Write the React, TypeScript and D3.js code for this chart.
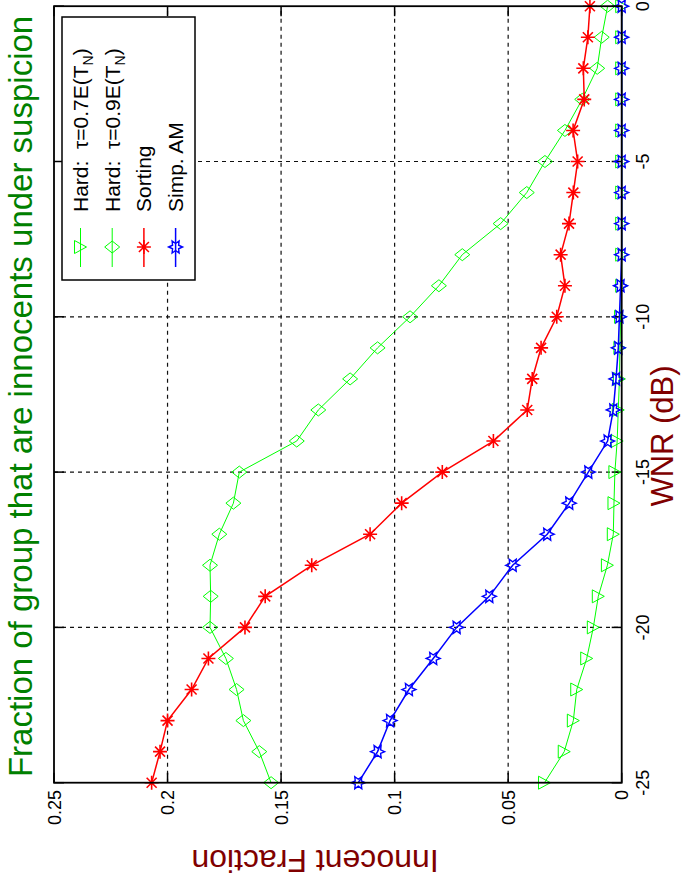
import * as d3 from "d3";

// WNR (dB) sample points
const wnr = [-25, -24, -23, -22, -21, -20, -19, -18, -17, -16, -15, -14, -13, -12, -11, -10, -9, -8, -7, -6, -5, -4, -3, -2, -1, 0];

const hard07 = [0.034, 0.0253, 0.0213, 0.0198, 0.0154, 0.0125, 0.0103, 0.0063, 0.0037, 0.0034, 0.003, 0.002, 0.0015, 0.001, 0.0008, 0.0005, 0, 0, 0, 0, 0, 0, 0, 0, 0, 0];
const hard09 = [0.1544, 0.1596, 0.1666, 0.1696, 0.1743, 0.1813, 0.181, 0.1813, 0.1772, 0.171, 0.1684, 0.1431, 0.1336, 0.1196, 0.1075, 0.0932, 0.0805, 0.0702, 0.0533, 0.0418, 0.0338, 0.025, 0.0174, 0.0108, 0.0088, 0.0062];
const sorting = [0.207, 0.2033, 0.2, 0.1894, 0.182, 0.1659, 0.157, 0.1365, 0.1108, 0.0969, 0.079, 0.0565, 0.0416, 0.0394, 0.0355, 0.0286, 0.025, 0.0269, 0.0232, 0.0213, 0.0194, 0.0214, 0.0165, 0.0169, 0.0149, 0.014];
const simpAM = [0.116, 0.1075, 0.102, 0.0937, 0.083, 0.0727, 0.0583, 0.048, 0.0328, 0.0231, 0.0147, 0.0062, 0.0037, 0.0025, 0.0015, 0.001, 0.0005, 0, 0, 0, 0, 0, 0, 0, 0, 0];

const xTicks = [-25, -20, -15, -10, -5, 0];
const yTicks = [0, 0.05, 0.1, 0.15, 0.2, 0.25];
const yTickLabels = ["0", "0.05", "0.1", "0.15", "0.2", "0.25"];

const series = [
  { name: "hard07", values: hard07, color: "#00ff00", width: 1, marker: "tri" },
  { name: "hard09", values: hard09, color: "#00ff00", width: 1, marker: "diamond" },
  { name: "sorting", values: sorting, color: "#ff0000", width: 1.5, marker: "star" },
  { name: "simpAM", values: simpAM, color: "#0000ff", width: 1.5, marker: "hex" },
];

// the figure is drawn in its own (landscape) frame, then turned a quarter left
const W = 891;
const H = 681;
const FONT = "'Liberation Sans', Arial, Helvetica, sans-serif";

const x = d3.scaleLinear().domain([-25, 0]).range([108.3, 884.8]);
const y = d3.scaleLinear().domain([0, 0.25]).range([621.7, 54]);

function hexPath(r: number) {
  const pts: string[] = [];
  for (let i = 0; i < 12; i++) {
    const a = (Math.PI / 6) * i - Math.PI / 2;
    const rr = i % 2 === 0 ? r : r * 0.5;
    pts.push(`${(Math.cos(a) * rr).toFixed(2)},${(Math.sin(a) * rr).toFixed(2)}`);
  }
  return "M" + pts.join("L") + "Z";
}

function Marker({ kind, color, cx, cy }: { kind: string; color: string; cx: number; cy: number }) {
  const t = `translate(${cx},${cy})`;
  if (kind === "tri")
    return <path transform={t} d="M-6.5,-6L6.5,-6L0,6Z" fill="none" stroke={color} strokeWidth={1} />;
  if (kind === "diamond")
    return <path transform={t} d="M0,-7.5L6,0L0,7.5L-6,0Z" fill="none" stroke={color} strokeWidth={1} />;
  if (kind === "star")
    return (
      <path
        transform={t}
        d="M-7,0L7,0M0,-7L0,7M-5,-5L5,5M-5,5L5,-5"
        fill="none"
        stroke={color}
        strokeWidth={1.6}
      />
    );
  return <path transform={t} d={hexPath(7)} fill="none" stroke={color} strokeWidth={1.4} />;
}

const legendItems = [
  { key: "hard07", label: "0.7" },
  { key: "hard09", label: "0.9" },
  { key: "sorting", label: "Sorting" },
  { key: "simpAM", label: "Simp. AM" },
];

export default function App() {
  const line = d3
    .line<number>()
    .x((_, i) => x(wnr[i]))
    .y((d) => y(d));

  const [x0, x1] = x.range();
  const [y0, y1] = y.range();
  const tick = 10;

  const lgX = 611;
  const lgY = 62;
  const lgW = 263;
  const lgH = 133;

  return (
    <svg
      width={H}
      height={W}
      style={{ position: "absolute", left: 0, top: 0, display: "block", background: "#fff" }}
      fontFamily={FONT}
    >
      <g transform={`translate(0,${W}) rotate(-90)`}>
        <rect x={0} y={0} width={W} height={H} fill="#fff" />

        {/* grid */}
        {xTicks.slice(1, -1).map((t) => (
          <line key={"gx" + t} x1={x(t)} x2={x(t)} y1={y1} y2={y0} stroke="#111" strokeWidth={1.2} strokeDasharray="4,4" />
        ))}
        {yTicks.slice(1, -1).map((t) => (
          <line key={"gy" + t} x1={x0} x2={x1} y1={y(t)} y2={y(t)} stroke="#111" strokeWidth={1.2} strokeDasharray="4,4" />
        ))}

        {/* ticks on all four sides */}
        {xTicks.map((t) => (
          <g key={"tx" + t} stroke="#000" strokeWidth={1.5}>
            <line x1={x(t)} x2={x(t)} y1={y0} y2={y0 - tick} />
            <line x1={x(t)} x2={x(t)} y1={y1} y2={y1 + tick} />
          </g>
        ))}
        {yTicks.map((t) => (
          <g key={"ty" + t} stroke="#000" strokeWidth={1.5}>
            <line x1={x0} x2={x0 + tick} y1={y(t)} y2={y(t)} />
            <line x1={x1} x2={x1 - tick} y1={y(t)} y2={y(t)} />
          </g>
        ))}

        {/* series */}
        {series.map((s) => (
          <g key={s.name}>
            <path d={line(s.values) ?? ""} fill="none" stroke={s.color} strokeWidth={s.width} />
            {s.values.map((v, i) => (
              <Marker key={i} kind={s.marker} color={s.color} cx={x(wnr[i])} cy={y(v)} />
            ))}
          </g>
        ))}

        {/* box */}
        <rect x={x0} y={y1} width={x1 - x0} height={y0 - y1} fill="none" stroke="#000" strokeWidth={1.8} />

        {/* tick labels */}
        {xTicks.map((t) => (
          <text key={"lx" + t} x={x(t)} y={649} textAnchor="middle" fontSize={18} fill="#000">
            {t}
          </text>
        ))}
        {yTicks.map((t, i) => (
          <text key={"ly" + t} x={101} y={y(t) + 6.5} textAnchor="end" fontSize={18} fill="#000">
            {yTickLabels[i]}
          </text>
        ))}

        {/* legend */}
        <rect x={lgX} y={lgY} width={lgW} height={lgH} fill="#fff" stroke="#000" strokeWidth={1.5} />
        {legendItems.map((it, i) => {
          const s = series.find((d) => d.name === it.key)!;
          const ry = lgY + 18.5 + i * 31.7;
          return (
            <g key={it.key}>
              <line x1={lgX + 13} x2={lgX + 52} y1={ry} y2={ry} stroke={s.color} strokeWidth={s.width} />
              <Marker kind={s.marker} color={s.color} cx={lgX + 33} cy={ry} />
              <text x={lgX + 68} y={ry + 7.5} fontSize={21} fill="#000" style={{ whiteSpace: "pre" }}>
                {it.key.startsWith("hard") ? (
                  <>
                    {"Hard:  τ=" + it.label + "E(T"}
                    <tspan fontSize={14} dy={5}>N</tspan>
                    <tspan dy={-5}>)</tspan>
                  </>
                ) : (
                  it.label
                )}
              </text>
            </g>
          );
        })}

        {/* title and axis labels */}
        <text x={(x0 + x1) / 2 - 2} y={32} textAnchor="middle" fontSize={33} fill="#008000">
          Fraction of group that are innocents under suspicion
        </text>
        <text x={455} y={673} textAnchor="middle" fontSize={31} fill="#800000">
          WNR (dB)
        </text>
        <text transform="translate(41,315) rotate(-90)" textAnchor="middle" fontSize={32} fill="#800000">
          Innocent Fraction
        </text>
      </g>
    </svg>
  );
}
